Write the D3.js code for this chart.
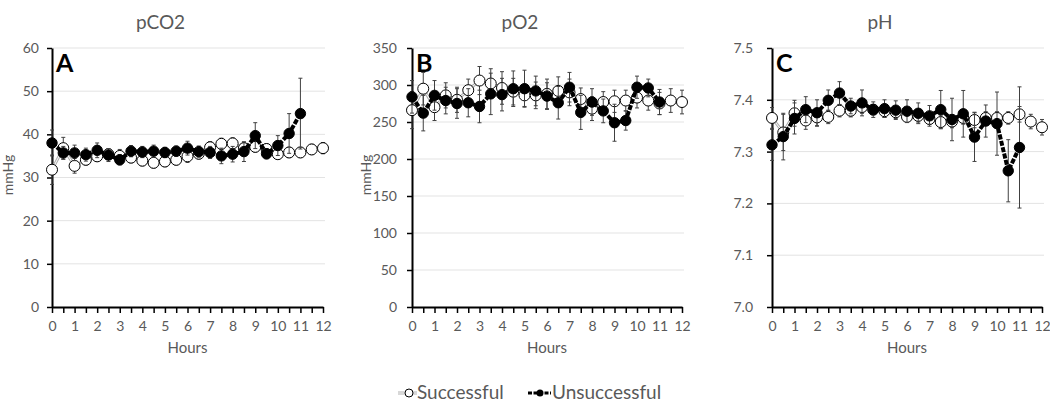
<!DOCTYPE html>
<html><head><meta charset="utf-8">
<script src="https://cdn.jsdelivr.net/npm/d3@7"></script>
<style>
html,body{margin:0;padding:0;background:#fff;}
svg{display:block;font-family:Lato,"Liberation Sans",sans-serif;}
</style></head>
<body><svg id="c" width="1050" height="402"></svg>
<script>
const hours = [0,0.5,1,1.5,2,2.5,3,3.5,4,4.5,5,5.5,6,6.5,7,7.5,8,8.5,9,9.5,10,10.5,11,11.5,12];
const xTickLabels = [0,1,2,3,4,5,6,7,8,9,10,11,12];

const pco2Successful = [31.8,36.8,32.7,34.1,34.9,35.4,35.0,34.6,33.9,33.4,33.7,34.1,34.9,35.5,37.0,37.8,37.9,36.8,37.1,36.6,35.4,35.8,35.8,36.5,36.8];
const pco2SuccessfulErr = [3.4,2.5,1.7,1.2,1.2,1.2,1.5,1.2,1.2,1.2,1.2,1.2,1.4,1.2,1.3,1.3,1.3,1.2,1.2,1.2,1.2,1.2,1.2,1.2,1.3];
const pco2Unsuccessful = [38.0,35.7,35.7,35.3,36.3,35.2,34.1,36.1,35.9,36.1,35.8,36.1,36.8,36.0,35.8,35.0,35.4,36.0,39.7,35.5,37.4,40.2,44.8];
const pco2UnsuccessfulErr = [3.0,1.5,1.8,1.5,1.7,1.5,1.2,1.3,1.3,1.4,1.2,1.2,1.6,1.3,1.4,1.8,1.8,2.3,3.0,1.2,2.3,4.6,8.2];
const pco2Ticks = [0,10,20,30,40,50,60];

const po2Successful = [266,295,270,286,280,293,306,302,296,291,286,286,288,292,290,281,268,277,278,279,283,279,275,279,277];
const po2SuccessfulErr = [25,22,18,17,17,15,19,20,22,18,15,18,20,19,18,15,16,14,15,14,14,13,15,16,16];
const po2Unsuccessful = [284,262,286,279,275,276,271,288,287,295,295,292,285,276,297,263,277,265,249,252,297,296,277];
const po2UnsuccessfulErr = [22,24,20,18,20,19,22,28,22,24,25,20,18,22,20,23,18,16,25,13,15,12,17];
const po2Ticks = [0,50,100,150,200,250,300,350];

const phSuccessful = [7.365,7.337,7.374,7.360,7.366,7.367,7.379,7.379,7.386,7.381,7.378,7.376,7.367,7.369,7.363,7.357,7.358,7.365,7.361,7.365,7.365,7.365,7.372,7.358,7.347];
const phSuccessfulErr = [0.02,0.035,0.025,0.017,0.017,0.013,0.012,0.012,0.012,0.01,0.012,0.012,0.01,0.012,0.01,0.012,0.012,0.012,0.015,0.012,0.012,0.012,0.015,0.014,0.015];
const phUnsuccessful = [7.313,7.329,7.364,7.381,7.375,7.399,7.413,7.388,7.394,7.381,7.383,7.380,7.378,7.374,7.369,7.381,7.362,7.373,7.328,7.359,7.354,7.263,7.308];
const phUnsuccessfulErr = [0.03,0.045,0.03,0.025,0.025,0.02,0.022,0.015,0.025,0.015,0.017,0.018,0.022,0.02,0.02,0.037,0.041,0.045,0.047,0.031,0.061,0.06,0.117];
const phTicks = [7.0,7.1,7.2,7.3,7.4,7.5];

const legendLabels = ["Successful","Unsuccessful"];

const panels = [
  {title:"pCO2", letter:"A", x0:52, x1:323, ticks:pco2Ticks, fmt:d3.format("d"), ylabel:"mmHg", ylabelX:8, gap:13,
   s:pco2Successful, se:pco2SuccessfulErr, u:pco2Unsuccessful, ue:pco2UnsuccessfulErr},
  {title:"pO2", letter:"B", x0:412, x1:682, ticks:po2Ticks, fmt:d3.format("d"), ylabel:"mmHg", ylabelX:366, gap:15,
   s:po2Successful, se:po2SuccessfulErr, u:po2Unsuccessful, ue:po2UnsuccessfulErr},
  {title:"pH", letter:"C", x0:772, x1:1042, ticks:phTicks, fmt:d3.format(".1f"), ylabel:null, gap:19,
   s:phSuccessful, se:phSuccessfulErr, u:phUnsuccessful, ue:phUnsuccessfulErr}
];
const TOP = 48, BOTTOM = 307;
const txt = "#595959";
const svg = d3.select("#c");

panels.forEach(p => {
  const g = svg.append("g");
  const x = d3.scaleLinear().domain([0,12]).range([p.x0,p.x1]);
  const y = d3.scaleLinear().domain([p.ticks[0], p.ticks[p.ticks.length-1]]).range([BOTTOM,TOP]);

  // gridlines
  g.append("g").selectAll("line").data(p.ticks.slice(1)).join("line")
    .attr("x1",p.x0).attr("x2",p.x1+2).attr("y1",d=>y(d)).attr("y2",d=>y(d))
    .attr("stroke","#e3e3e3").attr("stroke-width",1);

  // y axis
  const ya = g.append("g").attr("transform",`translate(${p.x0},0)`)
    .call(d3.axisLeft(y).tickValues(p.ticks).tickFormat(p.fmt).tickSize(5).tickPadding(p.gap-5).tickSizeOuter(0));
  ya.select(".domain").attr("stroke","#000").attr("stroke-width",2);
  ya.selectAll(".tick line").attr("stroke","#000").attr("stroke-width",1.5);
  ya.selectAll("text").attr("fill",txt).attr("font-size",14).attr("font-family","Lato,sans-serif");

  // x axis
  const xa = g.append("g").attr("transform",`translate(0,${BOTTOM})`)
    .call(d3.axisBottom(x).tickValues(hours).tickSize(6).tickPadding(8).tickSizeOuter(0)
      .tickFormat(d => xTickLabels.includes(d) ? d : ""));
  xa.select(".domain").attr("stroke","#000").attr("stroke-width",2);
  xa.selectAll(".tick line").attr("stroke","#000").attr("stroke-width",1.5);
  xa.selectAll("text").attr("fill",txt).attr("font-size",14).attr("font-family","Lato,sans-serif");

  // title
  g.append("text").attr("x",(p.x0+p.x1)/2-27).attr("y",29).attr("text-anchor","middle")
    .attr("fill",txt).attr("font-size",19).text(p.title);
  // Hours
  g.append("text").attr("x",(p.x0+p.x1)/2).attr("y",353).attr("text-anchor","middle")
    .attr("fill",txt).attr("font-size",15).text("Hours");
  // y label
  if (p.ylabel) {
    g.append("text").attr("transform",`translate(${p.ylabelX+5},${175}) rotate(-90)`)
      .attr("text-anchor","middle").attr("fill",txt).attr("font-size",14).text(p.ylabel);
  }
  // letter
  g.append("text").attr("x",p.x0+4).attr("y",72).attr("font-size",25).attr("font-weight","bold")
    .attr("fill","#000").text(p.letter);

  const sData = p.s.map((v,i)=>({h:hours[i], v, e:p.se[i]}));
  const uData = p.u.map((v,i)=>({h:hours[i], v, e:p.ue[i]}));
  const line = d3.line().x(d=>x(d.h)).y(d=>y(d.v));

  const errBars = (data) => {
    const eg = g.append("g").attr("stroke","#404040").attr("stroke-width",1);
    eg.selectAll(".v").data(data).join("line")
      .attr("x1",d=>x(d.h)).attr("x2",d=>x(d.h)).attr("y1",d=>y(d.v-d.e)).attr("y2",d=>y(d.v+d.e));
    eg.selectAll(".t").data(data).join("line")
      .attr("x1",d=>x(d.h)-2).attr("x2",d=>x(d.h)+2).attr("y1",d=>y(d.v+d.e)).attr("y2",d=>y(d.v+d.e));
    eg.selectAll(".b").data(data).join("line")
      .attr("x1",d=>x(d.h)-2).attr("x2",d=>x(d.h)+2).attr("y1",d=>y(d.v-d.e)).attr("y2",d=>y(d.v-d.e));
  };

  // successful series
  errBars(sData);
  g.append("path").datum(sData).attr("d",line).attr("fill","none").attr("stroke","#b0b0b0").attr("stroke-width",3);
  g.append("path").datum(sData).attr("d",line).attr("fill","none").attr("stroke","#fff").attr("stroke-width",1);
  g.append("g").selectAll("circle").data(sData).join("circle")
    .attr("cx",d=>x(d.h)).attr("cy",d=>y(d.v)).attr("r",5.5)
    .attr("fill","#fff").attr("stroke","#000").attr("stroke-width",1);

  // unsuccessful series
  errBars(uData);
  g.append("path").datum(uData).attr("d",line).attr("fill","none").attr("stroke","#000").attr("stroke-width",4)
    .attr("stroke-dasharray","5,1.5");
  g.append("g").selectAll("circle").data(uData).join("circle")
    .attr("cx",d=>x(d.h)).attr("cy",d=>y(d.v)).attr("r",5.2)
    .attr("fill","#000").attr("stroke","#000").attr("stroke-width",1);
});

// legend
const lg = svg.append("g");
const lx = [398, 528];
legendLabels.forEach((lab,i) => {
  const cx = lx[i];
  if (i === 0) {
    lg.append("line").attr("x1",cx).attr("x2",cx+19).attr("y1",393).attr("y2",393).attr("stroke","#b0b0b0").attr("stroke-width",3);
    lg.append("line").attr("x1",cx).attr("x2",cx+19).attr("y1",393).attr("y2",393).attr("stroke","#fff").attr("stroke-width",1);
    lg.append("circle").attr("cx",cx+11).attr("cy",393).attr("r",4).attr("fill","#fff").attr("stroke","#000").attr("stroke-width",1);
    lg.append("text").attr("x",cx+19).attr("y",399).attr("font-size",19).attr("fill",txt).text(lab);
  } else {
    lg.append("line").attr("x1",cx).attr("x2",cx+23).attr("y1",393).attr("y2",393).attr("stroke","#000").attr("stroke-width",3).attr("stroke-dasharray","4,1.5");
    lg.append("circle").attr("cx",cx+12).attr("cy",393).attr("r",3.5).attr("fill","#000");
    lg.append("text").attr("x",cx+24).attr("y",399).attr("font-size",19).attr("fill",txt).text(lab);
  }
});
</script></body></html>
